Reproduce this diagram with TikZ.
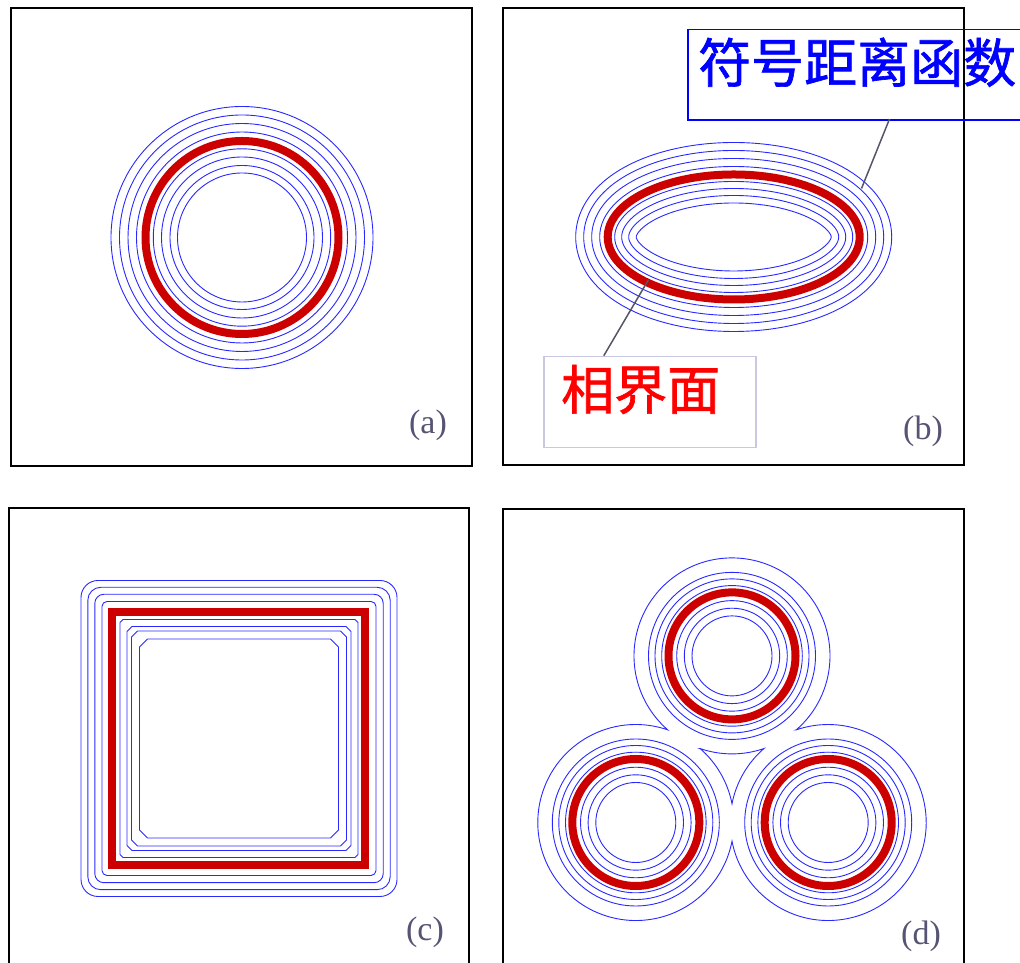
\documentclass[tikz,border=0pt]{standalone}
\usepackage{fontspec}
\newfontfamily\cjk[FakeBold=1.2]{Noto Sans CJK SC}
\newfontfamily\lab{Liberation Serif}
\usetikzlibrary{calc}
\definecolor{cblue}{RGB}{40,40,255}
\definecolor{cred}{RGB}{204,0,0}
\definecolor{clab}{RGB}{85,85,115}
\definecolor{cbox}{RGB}{200,200,225}
\definecolor{cline}{RGB}{85,85,105}
\definecolor{tred}{RGB}{255,0,0}
\definecolor{tblue}{RGB}{0,0,255}
\begin{document}
\begin{tikzpicture}[x=1pt,y=1pt,
  contour/.style={cblue, line width=0.9pt},
  iface/.style={cred, line width=8pt},
  frame/.style={black, line width=2pt},
  leader/.style={cline, line width=1.5pt},
  plabel/.style={font=\lab\fontsize{34}{40}\selectfont, text=clab, inner sep=0pt},
  cjktext/.style={font=\cjk\fontsize{53}{60}\selectfont, inner sep=0pt, anchor=base west}]
\useasboundingbox (0,0) rectangle (1020,963);

% frames
\draw[frame] (11,496.5) rectangle (471.5,955);
\draw[frame] (502.5,498) rectangle (964,955);
\draw[frame] (9,-5) rectangle (469,454.5);
\draw[frame] (502.5,-5) rectangle (964,454);

% (a)
\coordinate (ca) at (242,725.5);
\foreach \r in {64.5,72,80.5,88.7,105.5,114,122.5,131}
  \draw[contour] (ca) circle[radius=\r];
\draw[iface] (ca) circle[radius=96.5];
\node[plabel] (la) at (428,538) {(a)};

% (b)
\coordinate (cb) at (733.7,726);
\foreach \d in {-28.5,-21,-14,-7,8,16,24,32}
  \draw[contour] plot[domain=0:360, samples=241, variable=\t]
   ({733.7+(126+(\d)*6.25/sqrt(39.0625*cos(\t)*cos(\t)+158.76*sin(\t)*sin(\t)))*cos(\t)},
    {726+(62.5+(\d)*12.6/sqrt(39.0625*cos(\t)*cos(\t)+158.76*sin(\t)*sin(\t)))*sin(\t)}) -- cycle;
\draw[iface] (cb) ellipse[x radius=126, y radius=62.5];

\node[draw=tblue, line width=1.5pt, minimum width=345pt, minimum height=90.3pt,
      anchor=north west, inner sep=0pt] (sdfbox) at (687.3,934) {};
\node[cjktext, text=tblue] (sdftxt) at (698,880.5) {符号距离函数};
\coordinate (sdfA) at (889.5,844);
\coordinate (sdfB) at (861.5,774.5);
\draw[leader] (sdfA) -- (sdfB);

\node[draw=cbox, line width=1.5pt, minimum width=211.7pt, minimum height=91pt,
      anchor=north west, inner sep=0pt] (ifbox) at (543.3,607.3) {};
\node[cjktext, text=tred] (iftxt) at (561,553.5) {相界面};
\coordinate (ifA) at (603.8,607.3);
\coordinate (ifB) at (648.3,683);
\draw[leader] (ifA) -- (ifB);
\node[plabel] (lb) at (923,532) {(b)};

% (c)
\begin{scope}[shift={(239,224.5)}]
  \foreach \h/\r in {137/5,144.2/9,151.2/13,158/17}
    \draw[contour, rounded corners=\r pt] (-\h,-\h) rectangle (\h,\h);
  \foreach \h/\c in {119/3,112/5,107.5/6,99.5/8}
    \draw[contour] (-\h+\c,\h) -- (\h-\c,\h) -- (\h,\h-\c) -- (\h,-\h+\c)
      -- (\h-\c,-\h) -- (-\h+\c,-\h) -- (-\h,-\h+\c) -- (-\h,\h-\c) -- cycle;
\end{scope}
\draw[iface] (111.5,98) rectangle (364.5,351);
\node[plabel] (lc) at (425,30.5) {(c)};

% (d)
\coordinate (T) at (732,307.1);
\coordinate (BL) at (635.8,140.5);
\coordinate (BR) at (828.2,140.5);
\foreach \c in {T,BL,BR}{
  \foreach \r in {40,47.7,55.3,70.3,77,83.5}
    \draw[contour] (\c) circle[radius=\r];
  \draw[iface] (\c) circle[radius=63.5];
}
\draw[contour] ($(T)+(-49:98)$) arc[start angle=-49, end angle=229, radius=98]
  arc[start angle=71, end angle=349, radius=98]
  arc[start angle=191, end angle=469, radius=98] -- cycle;
\draw[contour] ($(T)+(251:98)$) arc[start angle=251, end angle=289, radius=98]
  arc[start angle=131, end angle=169, radius=98]
  arc[start angle=11, end angle=49, radius=98] -- cycle;
\node[plabel] (ld) at (921,27) {(d)};
\end{tikzpicture}
\end{document}
